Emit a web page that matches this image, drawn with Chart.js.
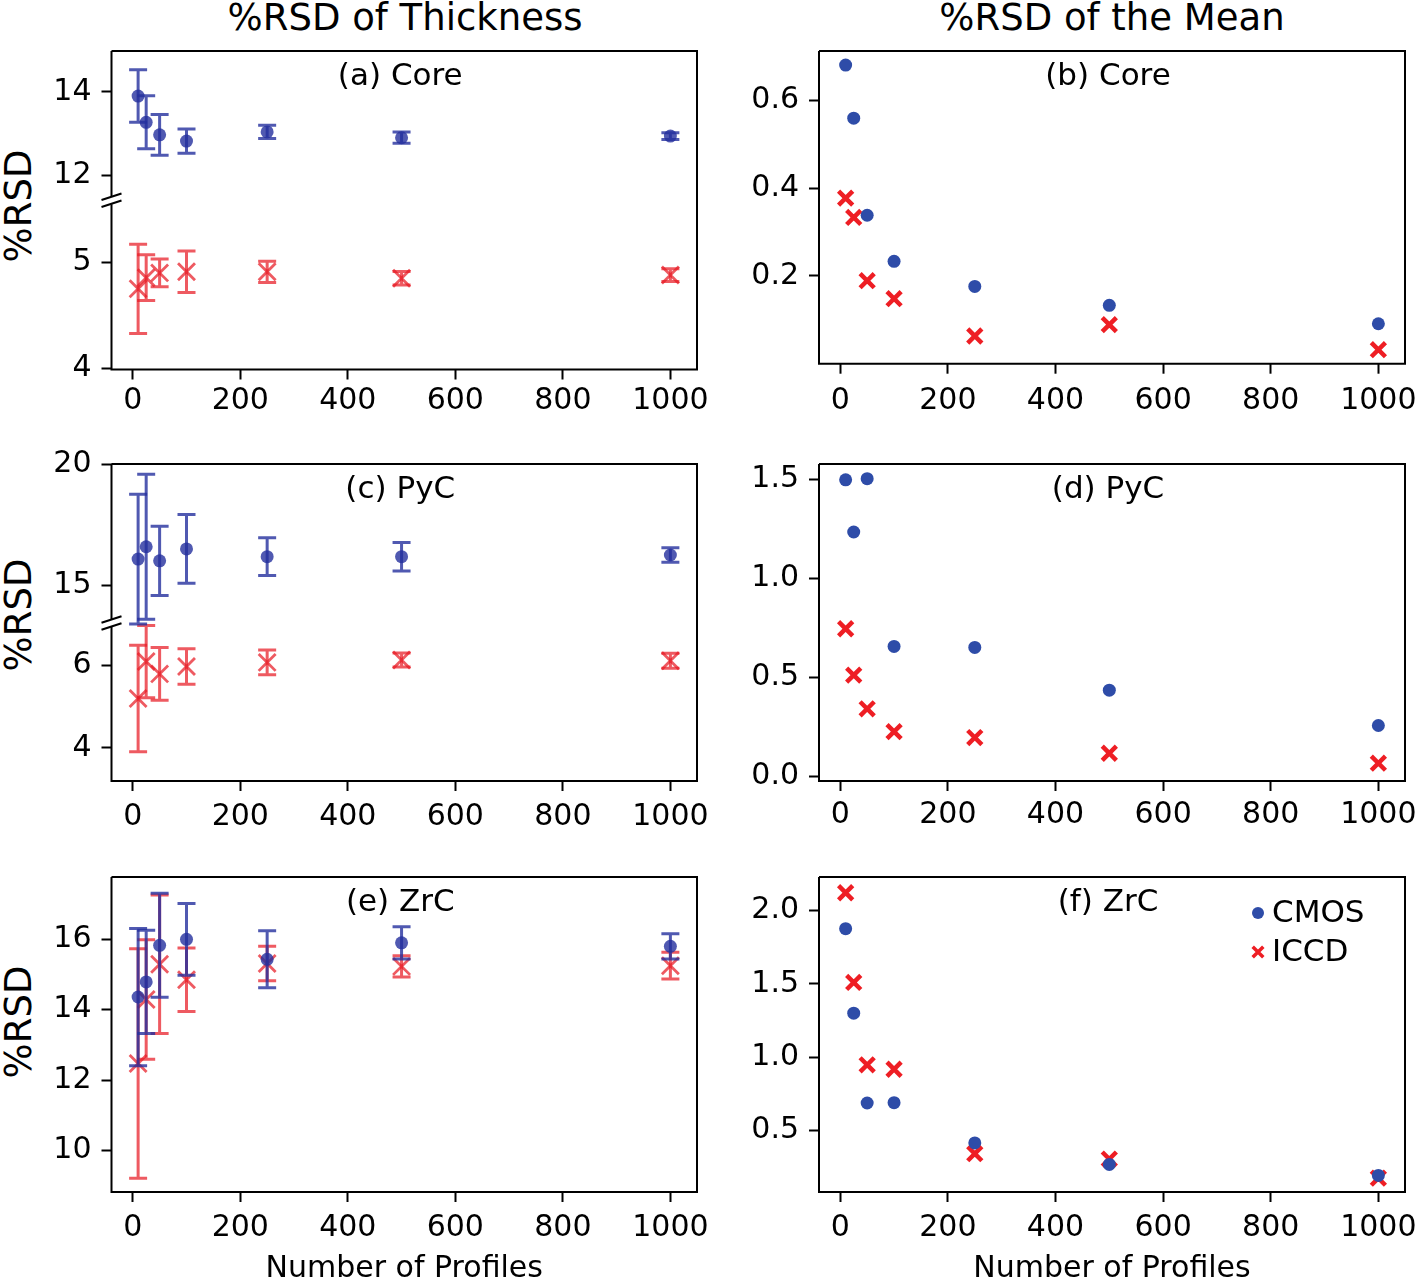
<!DOCTYPE html>
<html>
<head>
<meta charset="utf-8">
<script src="https://cdn.jsdelivr.net/npm/chart.js@4.4.1/dist/chart.umd.min.js"></script>
<style>
  body { margin: 0; background: #fff; }
  #page { position: relative; width: 1418px; height: 1284px; overflow: hidden; font-family: "DejaVu Sans", sans-serif; color: #000; }
  canvas { position: absolute; }
  .head { position: absolute; top: -4px; font-size: 37px; line-height: 43px; white-space: nowrap; transform: translateX(-50%); }
  .ylab { position: absolute; left: 18px; font-size: 37px; line-height: 43px; white-space: nowrap; transform: translate(-50%, -50%) rotate(-90deg); }
</style>
</head>
<body>
<div id="page">
  <div class="head" style="left:405px">%RSD of Thickness</div>
  <div class="head" style="left:1112px">%RSD of the Mean</div>
  <div class="ylab" style="top:206px">%RSD</div>
  <div class="ylab" style="top:615px">%RSD</div>
  <div class="ylab" style="top:1022px">%RSD</div>
  <canvas id="cA"></canvas>
  <canvas id="cB"></canvas>
  <canvas id="cC"></canvas>
  <canvas id="cD"></canvas>
  <canvas id="cE"></canvas>
  <canvas id="cF"></canvas>
</div>
<script>
// number of profiles (x values) and x tick labels
const profiles = [10, 25, 50, 100, 250, 500, 1000];
const xTicks = [0, 200, 400, 600, 800, 1000];

// %RSD of thickness, with error bar half-widths
const coreCmos = [13.90, 13.27, 12.97, 12.82, 13.04, 12.90, 12.94];
const coreCmosErr = [0.63, 0.635, 0.49, 0.29, 0.16, 0.135, 0.08];
const coreIccd = [4.75, 4.855, 4.90, 4.91, 4.91, 4.85, 4.88];
const coreIccdErr = [0.42, 0.215, 0.13, 0.195, 0.10, 0.063, 0.06];

const pycCmos = [16.07, 16.58, 16.00, 16.49, 16.17, 16.17, 16.24];
const pycCmosErr = [2.68, 3.00, 1.43, 1.42, 0.78, 0.59, 0.30];
const pycIccd = [5.20, 6.10, 5.80, 5.98, 6.08, 6.14, 6.12];
const pycIccdErr = [1.30, 0.88, 0.64, 0.43, 0.30, 0.17, 0.18];

const zrcCmos = [14.36, 14.79, 15.83, 16.00, 15.43, 15.90, 15.80];
const zrcCmosErr = [1.95, 1.47, 1.48, 1.02, 0.81, 0.46, 0.36];
const zrcIccd = [12.47, 14.29, 15.29, 14.85, 15.31, 15.23, 15.25];
const zrcIccdErr = [3.26, 1.70, 1.97, 0.90, 0.49, 0.30, 0.38];

// %RSD of the mean
const meanCoreCmos = [0.680, 0.559, 0.338, 0.233, 0.176, 0.133, 0.091];
const meanCoreIccd = [0.377, 0.333, 0.189, 0.148, 0.063, 0.089, 0.032];
const meanPycCmos = [1.497, 1.234, 1.503, 0.657, 0.652, 0.436, 0.258];
const meanPycIccd = [0.746, 0.512, 0.342, 0.227, 0.197, 0.118, 0.068];
const meanZrcCmos = [1.875, 1.300, 0.688, 0.690, 0.416, 0.270, 0.195];
const meanZrcIccd = [2.120, 1.509, 0.948, 0.918, 0.343, 0.306, 0.176];

// y tick labels
const coreHiTicks = [12, 14];
const coreLoTicks = [4, 5];
const pycHiTicks = [15, 20];
const pycLoTicks = [4, 6];
const zrcTicks = [10, 12, 14, 16];
const meanCoreTicks = [0.2, 0.4, 0.6];
const meanPycTicks = [0.0, 0.5, 1.0, 1.5];
const meanZrcTicks = [0.5, 1.0, 1.5, 2.0];

const seriesNames = ['CMOS', 'ICCD'];

// colours
const BLUE = 'rgb(46, 76, 168)';
const RED = 'rgb(238, 30, 36)';
const BLUE_A = 'rgba(36, 48, 158, 0.8)';
const RED_A = 'rgba(232, 26, 36, 0.72)';

const TICK_FONT = { family: 'DejaVu Sans', size: 30 };

function pts(ys) {
  return profiles.map((x, i) => ({ x: x, y: ys[i] }));
}

// frame, break marks, error bars, panel label, legend
const panelPlugin = {
  id: 'panel',
  beforeDatasetDraw(chart, args) {
    const ds = chart.data.datasets[args.index];
    if (!ds.errs) return;
    const ctx = chart.ctx;
    const xs = chart.scales.x;
    const ys = chart.scales[args.meta.yAxisID];
    ctx.save();
    ctx.strokeStyle = ds.borderColor;
    ctx.lineWidth = 3;
    profiles.forEach((p, i) => {
      const x = xs.getPixelForValue(p);
      const y1 = ys.getPixelForValue(ds.data[i].y + ds.errs[i]);
      const y2 = ys.getPixelForValue(ds.data[i].y - ds.errs[i]);
      ctx.beginPath();
      ctx.moveTo(x, y1); ctx.lineTo(x, y2);
      ctx.moveTo(x - 9, y1); ctx.lineTo(x + 9, y1);
      ctx.moveTo(x - 9, y2); ctx.lineTo(x + 9, y2);
      ctx.stroke();
    });
    ctx.restore();
  },
  afterDatasetsDraw(chart, args, opts) {
    const ctx = chart.ctx;
    const a = chart.chartArea;
    ctx.save();
    ctx.strokeStyle = '#000';
    ctx.lineWidth = 2;
    ctx.beginPath();
    ctx.moveTo(a.left, a.top); ctx.lineTo(a.right, a.top);
    ctx.lineTo(a.right, a.bottom); ctx.lineTo(a.left, a.bottom);
    if (opts.breakAxis) {
      const yb = chart.scales[opts.breakAxis].bottom;
      ctx.lineTo(a.left, yb + 4);
      ctx.moveTo(a.left, yb - 4);
      ctx.lineTo(a.left, a.top);
      ctx.stroke();
      ctx.beginPath();
      [-3.5, 3.5].forEach(d => {
        ctx.moveTo(a.left - 10, yb + d + 3.3);
        ctx.lineTo(a.left + 10, yb + d - 3.3);
      });
      ctx.stroke();
    } else {
      ctx.lineTo(a.left, a.top);
      ctx.stroke();
    }
    ctx.fillStyle = '#000';
    ctx.font = '31px "DejaVu Sans"';
    ctx.textAlign = 'center';
    ctx.textBaseline = 'middle';
    ctx.fillText(opts.label, (a.left + a.right) / 2 - 4, a.top + 26);
    if (opts.legend) {
      const lx = a.left + 439;
      chart.data.datasets.forEach((ds, i) => {
        const ly = a.top + 36 + i * 39;
        ctx.fillStyle = ds.backgroundColor;
        ctx.strokeStyle = ds.borderColor;
        ctx.lineWidth = i === 0 ? 0 : 3.5;
        Chart.helpers.drawPoint(ctx, { pointStyle: ds.pointStyle, radius: i === 0 ? 6 : 7.5, borderWidth: i === 0 ? 0 : 3.5, rotation: 0 }, lx, ly);
        ctx.fillStyle = '#000';
        ctx.textAlign = 'left';
        ctx.fillText(ds.label, lx + 14, ly + 1);
      });
    }
    ctx.restore();
  }
};

function yAxis(cfg, width, extra) {
  return Object.assign({
    type: 'linear',
    position: 'left',
    min: cfg.min,
    max: cfg.max,
    afterFit: s => { s.width = width; },
    afterBuildTicks: s => { s.ticks = cfg.ticks.map(v => ({ value: v })); },
    ticks: {
      font: TICK_FONT, color: '#000', padding: 10,
      callback: v => cfg.dec ? v.toFixed(cfg.dec) : String(v)
    },
    grid: { drawOnChartArea: false, drawTicks: true, tickLength: 10, tickWidth: 2, tickColor: '#000' },
    border: { display: false }
  }, extra || {});
}

function makePanel(id, g, yAxes, datasets, opts) {
  const padTop = 32;
  const padRight = 32;
  const cv = document.getElementById(id);
  const cR = g.R + padRight;
  const W = cR - g.cL;
  const H = g.cB - (g.T - padTop);
  cv.style.left = g.cL + 'px';
  cv.style.top = (g.T - padTop) + 'px';
  cv.style.width = W + 'px';
  cv.style.height = H + 'px';
  cv.width = W; cv.height = H;

  const scales = {
    x: {
      type: 'linear',
      position: 'bottom',
      min: -39.5,
      max: 1049.5,
      afterFit: s => { s.height = g.cB - g.B; },
      afterBuildTicks: s => { s.ticks = xTicks.map(v => ({ value: v })); },
      ticks: {
        font: TICK_FONT, color: '#000', padding: g.xPad, maxRotation: 0, autoSkip: false,
        callback: v => String(v)
      },
      grid: { drawOnChartArea: false, drawTicks: true, tickLength: 10, tickWidth: 2, tickColor: '#000' },
      border: { display: false },
      title: {
        display: !!opts.xTitle, text: 'Number of Profiles', color: '#000',
        font: { family: 'DejaVu Sans', size: 30, lineHeight: 1.0 }, padding: 0
      }
    }
  };
  yAxes.forEach(ax => { scales[ax.id] = yAxis(ax, g.L - g.cL, ax.extra); });

  new Chart(cv, {
    type: 'scatter',
    data: { datasets: datasets },
    options: {
      responsive: false,
      animation: false,
      devicePixelRatio: 1,
      layout: { padding: { left: 0, top: padTop, right: padRight, bottom: 0 } },
      scales: scales,
      plugins: {
        legend: { display: false },
        tooltip: { enabled: false },
        panel: opts
      }
    },
    plugins: [panelPlugin]
  });
}

function thickSets(cmos, cmosErr, iccd, iccdErr, yHi, yLo) {
  return [
    { label: seriesNames[0], data: pts(cmos), errs: cmosErr, yAxisID: yHi,
      pointStyle: 'circle', pointRadius: 6.5, borderWidth: 0,
      backgroundColor: BLUE_A, borderColor: BLUE_A },
    { label: seriesNames[1], data: pts(iccd), errs: iccdErr, yAxisID: yLo,
      pointStyle: 'crossRot', pointRadius: 12, borderWidth: 2.8,
      backgroundColor: RED_A, borderColor: RED_A }
  ];
}

function meanSets(cmos, iccd) {
  return [
    { label: seriesNames[0], data: pts(cmos), yAxisID: 'y',
      pointStyle: 'circle', pointRadius: 6.5, borderWidth: 0,
      backgroundColor: BLUE, borderColor: BLUE },
    { label: seriesNames[1], data: pts(iccd), yAxisID: 'y',
      pointStyle: 'crossRot', pointRadius: 10, borderWidth: 4.5,
      backgroundColor: RED, borderColor: RED }
  ];
}

// (a) Core thickness, broken axis
makePanel('cA',
  { cL: 0, L: 111.5, R: 697, T: 51, B: 369.5, cB: 430, xPad: 4 },
  [
    { id: 'yLo', min: 3.99, max: 5.584, ticks: coreLoTicks, extra: { stack: 'brk', stackWeight: 169.5 } },
    { id: 'yHi', min: 11.40, max: 14.98, ticks: coreHiTicks, extra: { stack: 'brk', stackWeight: 149.5 } }
  ],
  thickSets(coreCmos, coreCmosErr, coreIccd, coreIccdErr, 'yHi', 'yLo'),
  { label: '(a) Core', breakAxis: 'yHi' });

// (b) Core mean
makePanel('cB',
  { cL: 710, L: 819, R: 1405, T: 51, B: 363.7, cB: 430, xPad: 10 },
  [{ id: 'y', min: 0.0, max: 0.712, ticks: meanCoreTicks, dec: 1 }],
  meanSets(meanCoreCmos, meanCoreIccd),
  { label: '(b) Core' });

// (c) PyC thickness, broken axis
makePanel('cC',
  { cL: 0, L: 111.5, R: 697, T: 464, B: 781, cB: 845, xPad: 8 },
  [
    { id: 'yLo', min: 3.19, max: 7.04, ticks: pycLoTicks, extra: { stack: 'brk', stackWeight: 158 } },
    { id: 'yHi', min: 13.43, max: 20.0, ticks: pycHiTicks, extra: { stack: 'brk', stackWeight: 159 } }
  ],
  thickSets(pycCmos, pycCmosErr, pycIccd, pycIccdErr, 'yHi', 'yLo'),
  { label: '(c) PyC', breakAxis: 'yHi' });

// (d) PyC mean
makePanel('cD',
  { cL: 710, L: 819, R: 1405, T: 464, B: 781, cB: 845, xPad: 6 },
  [{ id: 'y', min: -0.022, max: 1.577, ticks: meanPycTicks, dec: 1 }],
  meanSets(meanPycCmos, meanPycIccd),
  { label: '(d) PyC' });

// (e) ZrC thickness
makePanel('cE',
  { cL: 0, L: 111.5, R: 697, T: 877, B: 1192, cB: 1284, xPad: 8 },
  [{ id: 'y', min: 8.82, max: 17.77, ticks: zrcTicks }],
  thickSets(zrcCmos, zrcCmosErr, zrcIccd, zrcIccdErr, 'y', 'y'),
  { label: '(e) ZrC', xTitle: true });

// (f) ZrC mean
makePanel('cF',
  { cL: 710, L: 819, R: 1405, T: 877, B: 1192, cB: 1284, xPad: 8 },
  [{ id: 'y', min: 0.082, max: 2.227, ticks: meanZrcTicks, dec: 1 }],
  meanSets(meanZrcCmos, meanZrcIccd),
  { label: '(f) ZrC', xTitle: true, legend: true });
</script>
</body>
</html>
